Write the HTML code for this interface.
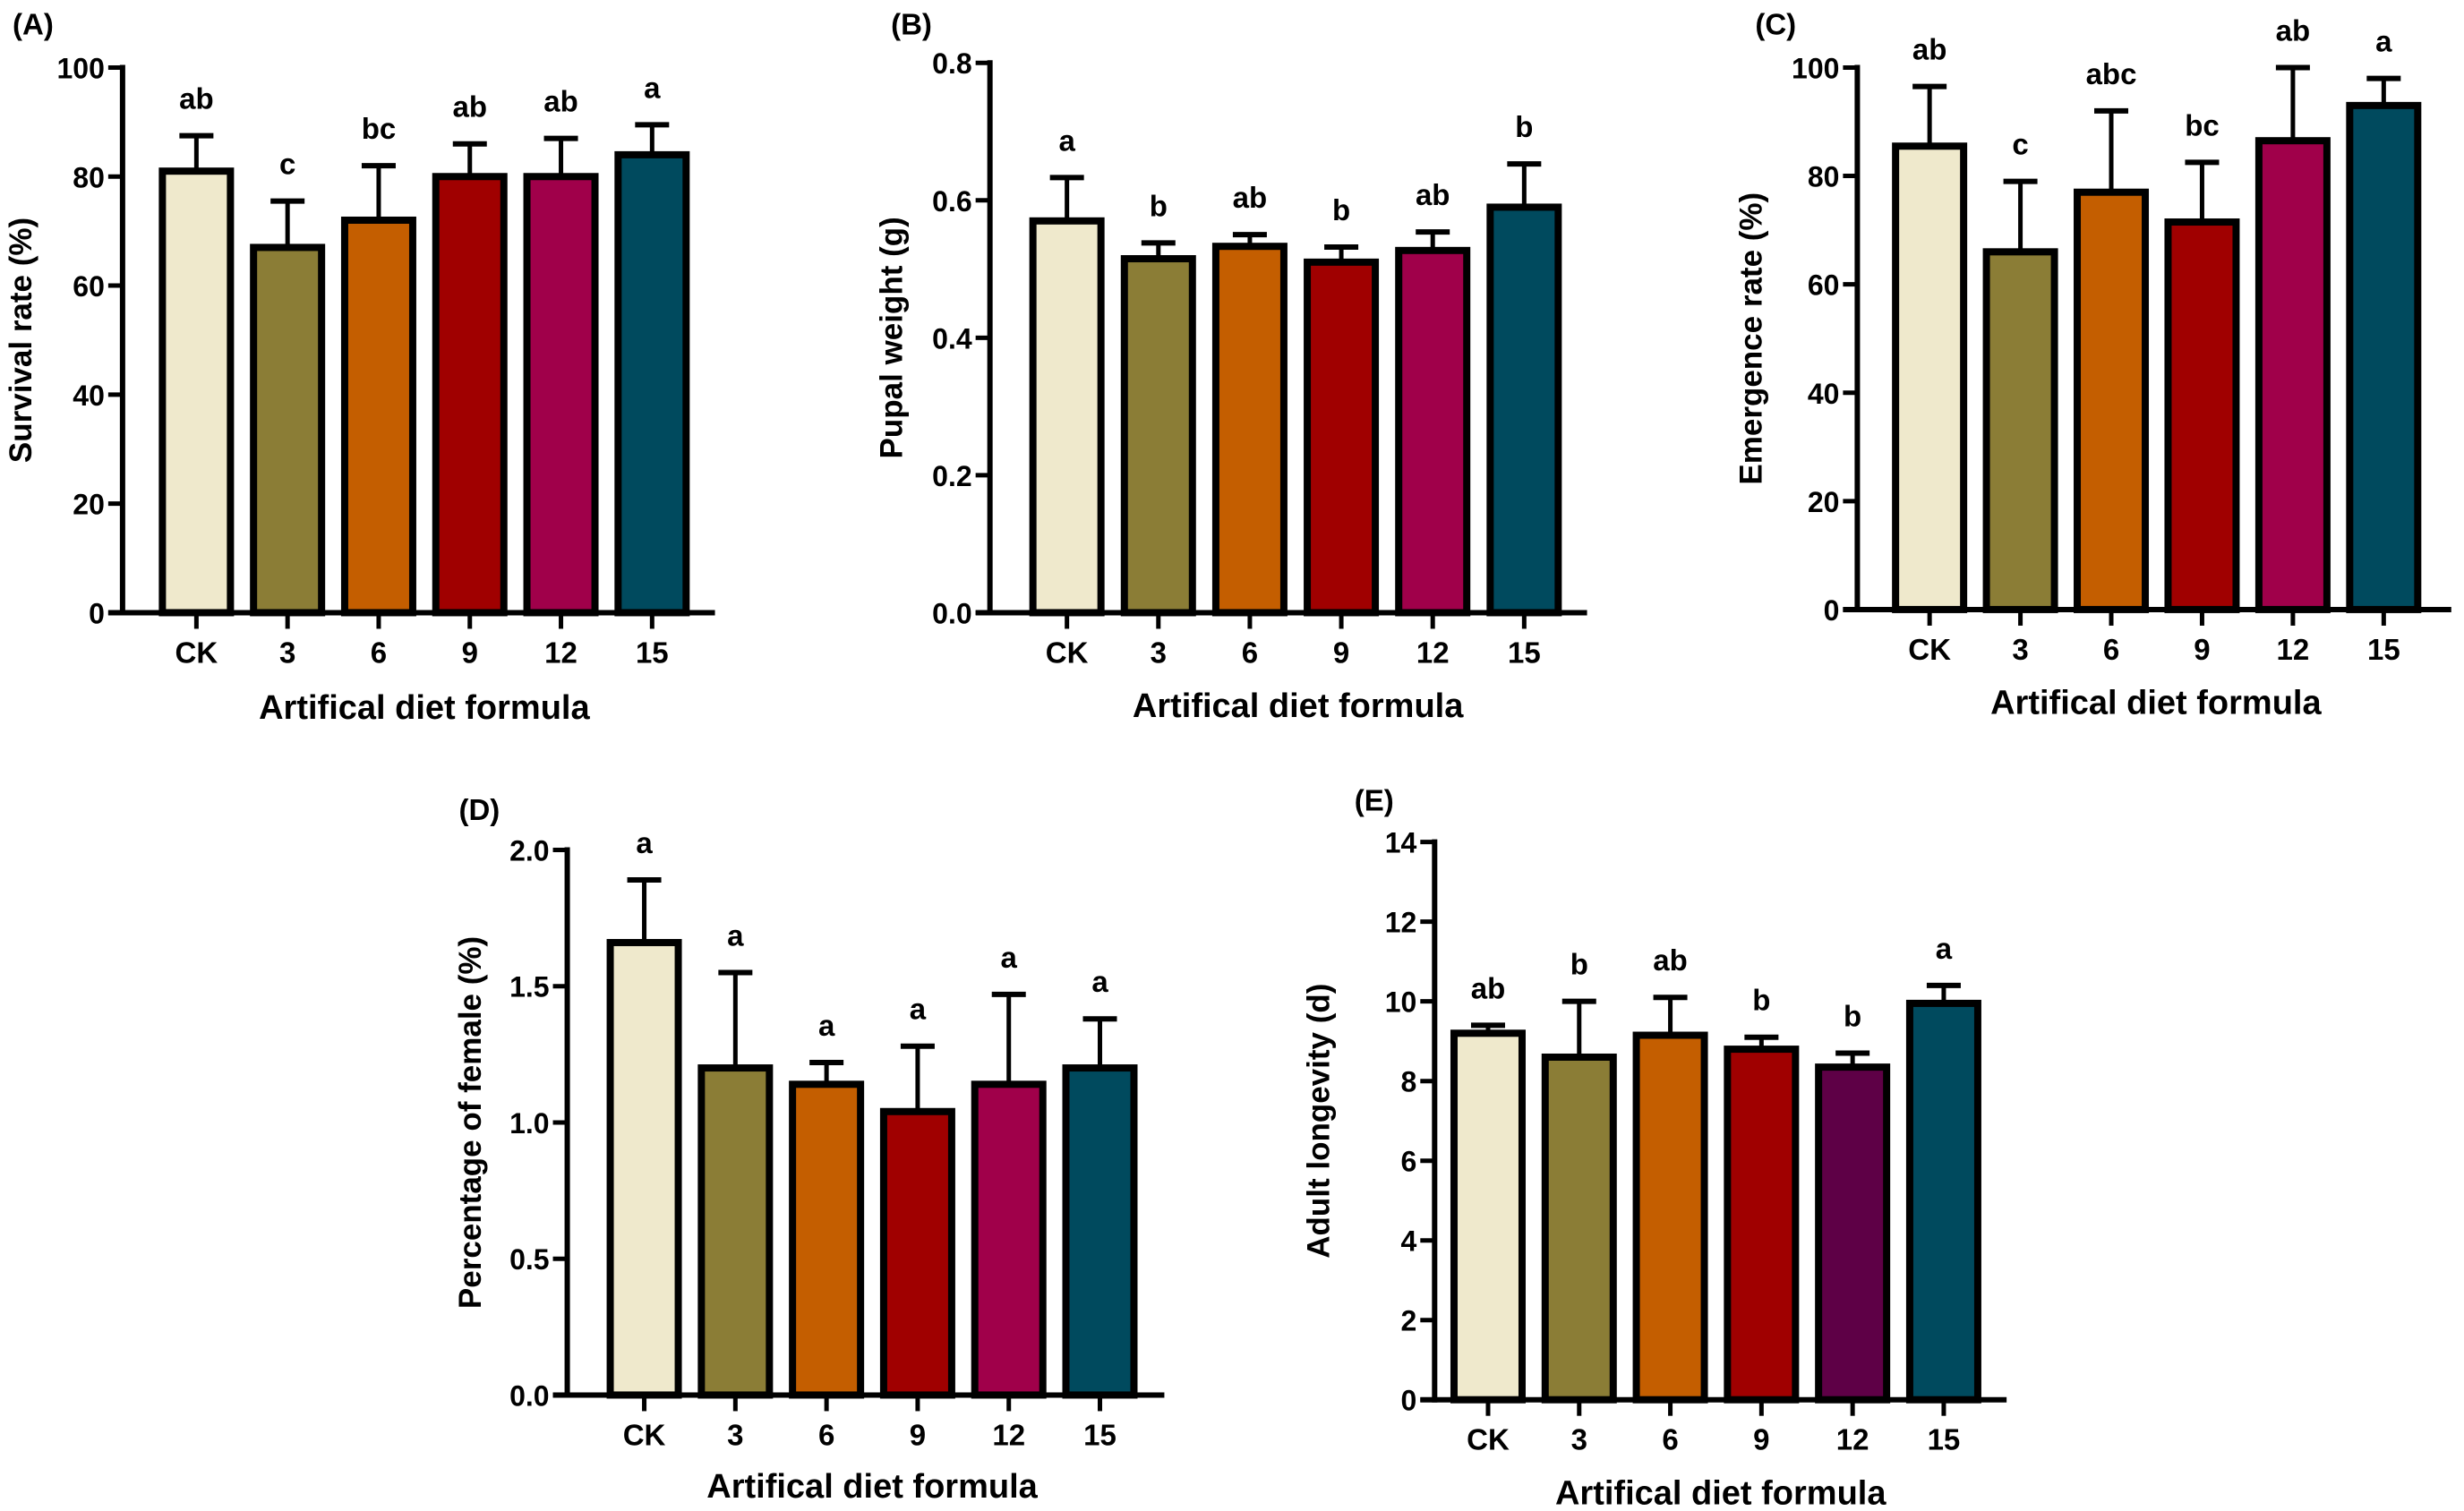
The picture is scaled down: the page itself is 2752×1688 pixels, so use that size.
<!DOCTYPE html>
<html><head><meta charset="utf-8">
<style>
html,body{margin:0;padding:0;background:#fff;}
svg{display:block;font-family:"Liberation Sans",Arial,sans-serif;font-weight:bold;}
</style></head>
<body>
<svg id="fig" width="2752" height="1688" viewBox="0 0 2752 1688" xmlns="http://www.w3.org/2000/svg"></svg>
<script>
const categories = ["CK","3","6","9","12","15"];
const survivalMeans = [81,67,72,80,80,84];
const survivalErr = [6.5,8.5,10,6,7,5.5];
const survivalLetters = ["ab","c","bc","ab","ab","a"];
const survivalTicks = [0,20,40,60,80,100];
const pupalMeans = [0.57,0.515,0.533,0.51,0.527,0.59];
const pupalErr = [0.063,0.023,0.017,0.022,0.027,0.063];
const pupalLetters = ["a","b","ab","b","ab","b"];
const pupalTicks = [0,0.2,0.4,0.6,0.8];
const emergeMeans = [85.5,66,77,71.5,86.5,93];
const emergeErr = [11,13,15,11,13.5,5];
const emergeLetters = ["ab","c","abc","bc","ab","a"];
const emergeTicks = [0,20,40,60,80,100];
const femaleMeans = [1.66,1.2,1.14,1.04,1.14,1.2];
const femaleErr = [0.23,0.35,0.08,0.24,0.33,0.18];
const femaleLetters = ["a","a","a","a","a","a"];
const femaleTicks = [0,0.5,1.0,1.5,2.0];
const longevityMeans = [9.2,8.6,9.15,8.8,8.35,9.95];
const longevityErr = [0.2,1.4,0.95,0.3,0.35,0.45];
const longevityLetters = ["ab","b","ab","b","b","a"];
const longevityTicks = [0,2,4,6,8,10,12,14];

const S = 1.755;
const NS = "http://www.w3.org/2000/svg";
const svg = document.getElementById('fig');
const colorsA = ["#efe9cc","#8b7d36","#c45e00","#a00000","#a0004a","#004a5e"];
const colorsE = ["#efe9cc","#8b7d36","#c45e00","#a00000","#5e0046","#004a5e"];

function mk(tag, attrs, parent){
  const e = document.createElementNS(NS, tag);
  for (const k in attrs) e.setAttribute(k, attrs[k]);
  (parent||svg).appendChild(e);
  return e;
}

function panel(p){
  const g = mk('g', {});
  
  
  const yMax = p.ticks[p.ticks.length-1];
  const y0 = p.yBot*S, y1 = p.yTop*S, ax = p.axX*S;
  const yScale = v => y0 - (v / yMax) * (y0 - y1);
  const xScale = i => (p.x0 + i * p.dx) * S;
  const bw = 76;
  p.means.forEach((m,i)=>{
    const cx = xScale(i), top = yScale(m), et = yScale(m + p.err[i]);
    const ebar = mk('line',{x1:cx,x2:cx,y1:top,y2:et,stroke:'#000','stroke-width':5},g);
    
    
    const cap = mk('line',{x1:cx-19,x2:cx+19,y1:et,y2:et,stroke:'#000','stroke-width':6},g);
    
    
    const r = mk('rect',{x:cx-bw/2,y:top,width:bw,height:y0-top,fill:p.colors[i],stroke:'#000','stroke-width':8},g);
    
    
    const t = mk('text',{x:cx,y:et-30,'text-anchor':'middle','font-size':33},g);
    t.textContent = p.letters[i];
    
    
    const tk = mk('line',{x1:cx,x2:cx,y1:y0,y2:y0+18,stroke:'#000','stroke-width':5},g);
    
    
    const tl = mk('text',{x:cx,y:y0+56,'text-anchor':'middle','font-size':33},g);
    tl.textContent = categories[i];
    
    
  });
  const ya = mk('line',{x1:ax,x2:ax,y1:y1-3,y2:y0+3,stroke:'#000','stroke-width':6},g);
  
  
  const xa = mk('line',{x1:ax-16,x2:p.xEnd*S,y1:y0,y2:y0,stroke:'#000','stroke-width':6},g);
  
  
  p.ticks.forEach(v=>{
    const y = yScale(v);
    const tk = mk('line',{x1:ax-16,x2:ax,y1:y,y2:y,stroke:'#000','stroke-width':5},g);
    
    
    const tl = mk('text',{x:ax-20,y:y+12,'text-anchor':'end','font-size':32},g);
    tl.textContent = p.fmt(v);
    
    
  });
  const yt = mk('text',{x:0,y:0,'text-anchor':'middle','font-size':35,transform:`translate(${p.ytX*S},${(p.yTop+p.yBot)/2*S}) rotate(-90)`},g);
  yt.textContent = p.ytitle;
  
  
  const xt = mk('text',{x:p.xtX*S,y:p.xtY*S+13,'text-anchor':'middle','font-size':38},g);
  xt.textContent = 'Artifical diet formula';
  
  
  const pl = mk('text',{x:p.plX*S,y:p.plY*S+12,'font-size':33},g);
  pl.textContent = p.label;
  
  
}

const f0 = v => String(v);
const f1 = v => v.toFixed(1);
panel({key:'a',label:'(A)',means:survivalMeans,err:survivalErr,letters:survivalLetters,ticks:survivalTicks,fmt:f0,colors:colorsA,
  axX:78,yTop:43,yBot:390,x0:125,dx:58,xEnd:455,ytitle:'Survival rate (%)',ytX:20,xtX:270,xtY:450,plX:8,plY:15});
panel({key:'b',label:'(B)',means:pupalMeans,err:pupalErr,letters:pupalLetters,ticks:pupalTicks,fmt:f1,colors:colorsA,
  axX:630,yTop:40,yBot:390,x0:679,dx:58.2,xEnd:1010,ytitle:'Pupal weight (g)',ytX:574,xtX:826,xtY:449,plX:567,plY:15});
panel({key:'c',label:'(C)',means:emergeMeans,err:emergeErr,letters:emergeLetters,ticks:emergeTicks,fmt:f0,colors:colorsA,
  axX:1182,yTop:43,yBot:388,x0:1228,dx:57.8,xEnd:1560,ytitle:'Emergence rate (%)',ytX:1121,xtX:1372,xtY:447,plX:1117,plY:15});
panel({key:'d',label:'(D)',means:femaleMeans,err:femaleErr,letters:femaleLetters,ticks:femaleTicks,fmt:f1,colors:colorsA,
  axX:361,yTop:541,yBot:888,x0:410,dx:58,xEnd:741,ytitle:'Percentage of female (%)',ytX:306,xtX:555,xtY:946,plX:292,plY:515});
panel({key:'e',label:'(E)',means:longevityMeans,err:longevityErr,letters:longevityLetters,ticks:longevityTicks,fmt:f0,colors:colorsE,
  axX:913,yTop:536,yBot:891,x0:947,dx:58,xEnd:1277,ytitle:'Adult longevity (d)',ytX:846,xtX:1095,xtY:950,plX:862,plY:509});
</script>
</body></html>
